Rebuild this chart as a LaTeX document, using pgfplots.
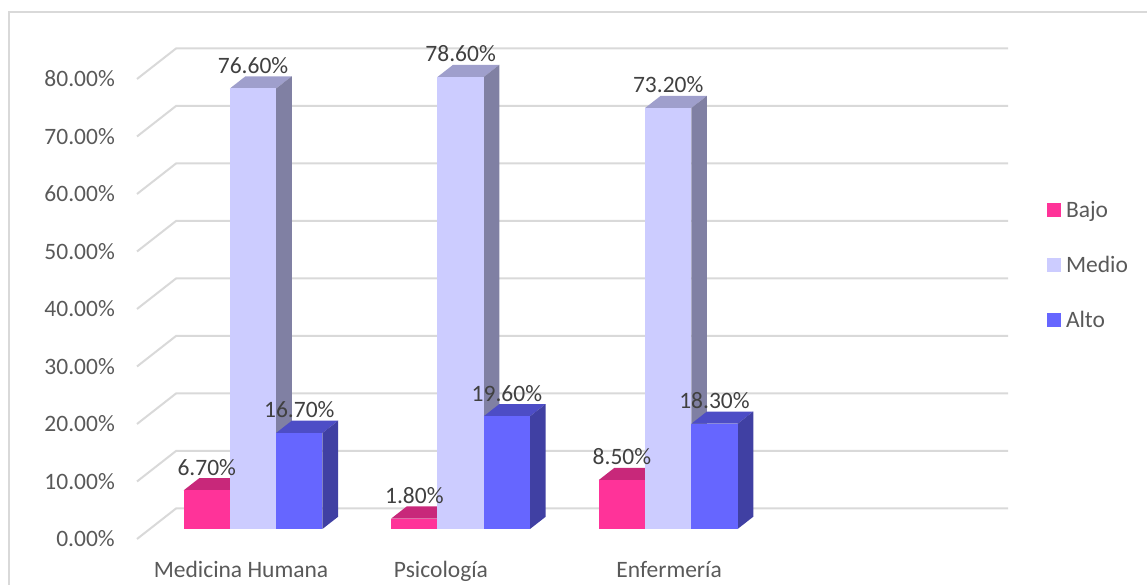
\documentclass[border=0pt]{standalone}
\usepackage{pgfplots}
\pgfplotsset{compat=1.18}
\usepackage{fontspec}
\setmainfont{Carlito}
\definecolor{bajoF}{HTML}{FF3399}
\definecolor{bajoT}{HTML}{C8287A}
\definecolor{bajoS}{HTML}{A02060}
\definecolor{medioF}{HTML}{CCCCFF}
\definecolor{medioT}{HTML}{9F9FCC}
\definecolor{medioS}{HTML}{8080A3}
\definecolor{altoF}{HTML}{6666FF}
\definecolor{altoT}{HTML}{4D4DC6}
\definecolor{altoS}{HTML}{4040A3}
\definecolor{gridc}{HTML}{D9D9D9}
\definecolor{tickc}{HTML}{595959}
\definecolor{lblc}{HTML}{404040}
% geometry (axis units)
\def\bw{0.2226}
\def\sx{0.0619}
\def\sy{1.75}
\def\ddx{0.075}
\def\ddy{2.12}
\newcommand{\tdbar}[6]{%
  \pgfmathsetmacro{\xl}{#1+(#2)*\bw-0.5*\bw+\sx}%
  \pgfmathsetmacro{\xr}{\xl+\bw}%
  \pgfmathsetmacro{\yb}{\sy}%
  \pgfmathsetmacro{\yt}{#3+\sy}%
  \pgfmathsetmacro{\xlb}{\xl+\ddx}%
  \pgfmathsetmacro{\xrb}{\xr+\ddx}%
  \pgfmathsetmacro{\ybb}{\yb+\ddy}%
  \pgfmathsetmacro{\ytb}{\yt+\ddy}%
  \edef\tmp{%
    \noexpand\addplot[fill=#5,draw=none,forget plot] coordinates {(\xl,\yt) (\xr,\yt) (\xrb,\ytb) (\xlb,\ytb)} -- cycle;
    \noexpand\addplot[fill=#6,draw=none,forget plot] coordinates {(\xr,\yb) (\xrb,\ybb) (\xrb,\ytb) (\xr,\yt)} -- cycle;
    \noexpand\addplot[fill=#4,draw=none,forget plot] coordinates {(\xl,\yb) (\xr,\yb) (\xr,\yt) (\xl,\yt)} -- cycle;
  }\tmp}
\newcommand{\tdlabel}[3]{%
  \pgfmathsetmacro{\xc}{#1+(#2)*\bw+\sx}%
  \pgfmathsetmacro{\yt}{#3+\sy}%
  \edef\tmp{\noexpand\addplot[lbl] coordinates {(\xc,\yt) [#3]};}\tmp}
\begin{document}
\begin{tikzpicture}
\begin{axis}[
  x=208pt, y=5.75pt,
  xmin=0, xmax=4, ymin=0, ymax=86,
  clip=false,
  axis line style={draw=none},
  major tick length=0pt,
  /pgf/number format/assume math mode=true,
  font=\fontsize{23.5}{28}\selectfont,
  ytick={0,10,20,30,40,50,60,70,80},
  yticklabels={0.00\%,10.00\%,20.00\%,30.00\%,40.00\%,50.00\%,60.00\%,70.00\%,80.00\%},
  yticklabel style={anchor=east, inner sep=0pt, xshift=-22pt, text=tickc},
  xtick={0.50,1.4615,2.558},
  xticklabels={Medicina Humana,Psicología,Enfermería},
  xticklabel style={anchor=base, inner sep=0pt, yshift=-39pt, text=tickc},
  lbl/.style={draw=none, forget plot, point meta=explicit,
    nodes near coords={\pgfmathprintnumber[fixed,fixed zerofill,precision=2]{\pgfplotspointmeta}\%},
    every node near coord/.append style={anchor=center, yshift=23pt, inner sep=0pt, text=lblc}},
  legend image code/.code={\fill[#1] (0pt,0pt) rectangle (14pt,14pt);},
  legend style={at={(axis cs:4.375,58.78)}, anchor=north west, draw=none, fill=none,
    inner sep=0pt, outer sep=0pt, row sep=33pt, column sep=5pt,
    nodes={inner sep=0pt, text height=16pt, text depth=6pt, text=tickc, anchor=base west}},
  legend cell align=left,
]
% frame
\draw[gridc, line width=2pt] (axis cs:4.86,91.65) -- (axis cs:-0.6154,91.65) -- (axis cs:-0.6154,-8.1);
% gridlines (floor edge + back wall)
\addplot[gridc, line width=2pt, forget plot] coordinates {(0,0) (0.1875,5.304) (4.1875,5.304)};
\addplot[gridc, line width=2pt, forget plot] coordinates {(0,10) (0.1875,15.304) (4.1875,15.304)};
\addplot[gridc, line width=2pt, forget plot] coordinates {(0,20) (0.1875,25.304) (4.1875,25.304)};
\addplot[gridc, line width=2pt, forget plot] coordinates {(0,30) (0.1875,35.304) (4.1875,35.304)};
\addplot[gridc, line width=2pt, forget plot] coordinates {(0,40) (0.1875,45.304) (4.1875,45.304)};
\addplot[gridc, line width=2pt, forget plot] coordinates {(0,50) (0.1875,55.304) (4.1875,55.304)};
\addplot[gridc, line width=2pt, forget plot] coordinates {(0,60) (0.1875,65.304) (4.1875,65.304)};
\addplot[gridc, line width=2pt, forget plot] coordinates {(0,70) (0.1875,75.304) (4.1875,75.304)};
\addplot[gridc, line width=2pt, forget plot] coordinates {(0,80) (0.1875,85.304) (4.1875,85.304)};
% bars: slot centre, position (-1 Bajo, 0 Medio, 1 Alto), value, colours
\tdbar{0.496}{-1}{6.7}{bajoF}{bajoT}{bajoS}
\tdbar{0.496}{0}{76.6}{medioF}{medioT}{medioS}
\tdbar{0.496}{1}{16.7}{altoF}{altoT}{altoS}
\tdbar{1.494}{-1}{1.8}{bajoF}{bajoT}{bajoS}
\tdbar{1.494}{0}{78.6}{medioF}{medioT}{medioS}
\tdbar{1.494}{1}{19.6}{altoF}{altoT}{altoS}
\tdbar{2.492}{-1}{8.5}{bajoF}{bajoT}{bajoS}
\tdbar{2.492}{0}{73.2}{medioF}{medioT}{medioS}
\tdbar{2.492}{1}{18.3}{altoF}{altoT}{altoS}
% data labels
\tdlabel{0.496}{-1}{6.7}
\tdlabel{0.496}{0}{76.6}
\tdlabel{0.496}{1}{16.7}
\tdlabel{1.494}{-1}{1.8}
\tdlabel{1.494}{0}{78.6}
\tdlabel{1.494}{1}{19.6}
\tdlabel{2.492}{-1}{8.5}
\tdlabel{2.492}{0}{73.2}
\tdlabel{2.492}{1}{18.3}
% legend
\addlegendimage{fill=bajoF, draw=none}
\addlegendentry{Bajo}
\addlegendimage{fill=medioF, draw=none}
\addlegendentry{Medio}
\addlegendimage{fill=altoF, draw=none}
\addlegendentry{Alto}
\coordinate (bbll) at (axis cs:-0.658654,-8.0);
\coordinate (bbur) at (axis cs:4.855769,93.739);
\end{axis}
\pgfresetboundingbox
\path[use as bounding box] (bbll) rectangle (bbur);
\end{tikzpicture}
\end{document}
